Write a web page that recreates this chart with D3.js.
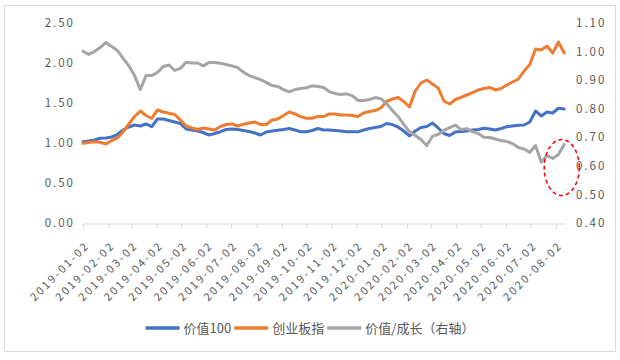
<!DOCTYPE html>
<html>
<head>
<meta charset="utf-8">
<script src="https://cdn.jsdelivr.net/npm/d3@7/dist/d3.min.js"></script>
<style>
  html, body { margin: 0; padding: 0; background: #fff; }
  svg { display: block; }
  text { font-family: "Noto Sans CJK SC", "Noto Sans", sans-serif; fill: #595959; }
</style>
</head>
<body>
<svg id="chart" width="620" height="360"></svg>
<script>
// ---- data (weekly readings) ----
const dates = [
"2019-01-02","2019-01-09","2019-01-16","2019-01-23","2019-01-30","2019-02-06","2019-02-13","2019-02-20","2019-02-27",
"2019-03-06","2019-03-13","2019-03-20","2019-03-27","2019-04-03","2019-04-10","2019-04-17","2019-04-24",
"2019-05-01","2019-05-08","2019-05-15","2019-05-22","2019-05-29","2019-06-05","2019-06-12","2019-06-19","2019-06-26",
"2019-07-03","2019-07-10","2019-07-17","2019-07-24","2019-07-31","2019-08-07","2019-08-14","2019-08-21","2019-08-28",
"2019-09-04","2019-09-11","2019-09-18","2019-09-25","2019-10-02","2019-10-09","2019-10-16","2019-10-23","2019-10-30",
"2019-11-06","2019-11-13","2019-11-20","2019-11-27","2019-12-04","2019-12-11","2019-12-18","2019-12-25",
"2020-01-01","2020-01-08","2020-01-15","2020-01-22","2020-01-29","2020-02-05","2020-02-12","2020-02-19","2020-02-26",
"2020-03-04","2020-03-11","2020-03-18","2020-03-25","2020-04-01","2020-04-08","2020-04-15","2020-04-22","2020-04-29",
"2020-05-06","2020-05-13","2020-05-20","2020-05-27","2020-06-03","2020-06-10","2020-06-17","2020-06-24",
"2020-07-01","2020-07-08","2020-07-15","2020-07-22","2020-07-29","2020-08-05","2020-08-12"
];
const value100 = [
1.016,1.025,1.038,1.059,1.063,1.075,1.106,1.163,1.200,
1.225,1.213,1.238,1.204,1.300,1.300,1.281,1.263,
1.244,1.175,1.163,1.150,1.131,1.100,1.119,1.141,1.169,
1.175,1.169,1.156,1.144,1.125,1.100,1.138,1.150,1.159,
1.169,1.181,1.163,1.141,1.141,1.156,1.181,1.163,1.163,
1.156,1.150,1.141,1.141,1.141,1.163,1.181,1.194,
1.206,1.244,1.231,1.200,1.150,1.088,1.150,1.194,1.206,
1.250,1.188,1.119,1.094,1.138,1.144,1.150,1.163,1.169,
1.184,1.175,1.163,1.181,1.204,1.213,1.221,1.225,
1.263,1.400,1.338,1.388,1.375,1.434,1.425
];
const chinext = [
0.996,1.006,1.016,1.009,0.988,1.031,1.063,1.138,1.238,
1.331,1.400,1.344,1.309,1.413,1.388,1.371,1.356,
1.288,1.213,1.188,1.169,1.188,1.175,1.163,1.206,1.231,
1.238,1.213,1.234,1.250,1.263,1.231,1.231,1.288,1.300,
1.344,1.388,1.363,1.329,1.309,1.309,1.331,1.331,1.363,
1.363,1.350,1.350,1.344,1.331,1.375,1.394,1.406,
1.438,1.519,1.550,1.569,1.519,1.450,1.650,1.750,1.788,
1.738,1.688,1.525,1.488,1.544,1.569,1.600,1.631,1.663,
1.681,1.694,1.663,1.681,1.725,1.763,1.800,1.900,
1.981,2.175,2.163,2.213,2.125,2.263,2.125
];
const valueGrowth = [
1.001,0.990,1.000,1.014,1.032,1.018,1.004,0.976,0.950,
0.916,0.867,0.916,0.916,0.927,0.948,0.953,0.934,
0.941,0.963,0.960,0.960,0.950,0.962,0.962,0.959,0.955,
0.950,0.944,0.928,0.916,0.909,0.902,0.892,0.881,0.878,
0.867,0.859,0.867,0.871,0.873,0.880,0.878,0.874,0.860,
0.853,0.850,0.852,0.846,0.829,0.829,0.832,0.839,
0.835,0.818,0.794,0.773,0.745,0.720,0.706,0.692,0.671,
0.703,0.710,0.724,0.734,0.743,0.727,0.730,0.720,0.713,
0.700,0.699,0.694,0.689,0.685,0.678,0.664,0.659,
0.647,0.671,0.613,0.636,0.626,0.640,0.675
];
const leftTicks = [0.00, 0.50, 1.00, 1.50, 2.00, 2.50];
const rightTicks = [0.40, 0.50, 0.60, 0.70, 0.80, 0.90, 1.00, 1.10];
const xTickLabels = [
"2019-01-02","2019-02-02","2019-03-02","2019-04-02","2019-05-02","2019-06-02","2019-07-02","2019-08-02",
"2019-09-02","2019-10-02","2019-11-02","2019-12-02","2020-01-02","2020-02-02","2020-03-02","2020-04-02",
"2020-05-02","2020-06-02","2020-07-02","2020-08-02"
];
const xDomain = ["2019-01-02", "2020-08-13"];
const seriesNames = ["价值100", "创业板指", "价值/成长（右轴）"];
const seriesColors = ["#4472C4", "#ED7D31", "#A5A5A5"];
// annotation: dashed ellipse around latest ratio readings (date, right-axis value)
const highlight = { date: "2020-08-09", value: 0.594 };

// ---- drawing ----
const parse = d3.timeParse("%Y-%m-%d");
const svg = d3.select("#chart");

svg.append("rect").attr("x", 4.5).attr("y", 5.5).attr("width", 611).attr("height", 346)
  .attr("fill", "#fff").attr("stroke", "#d9d9d9").attr("stroke-width", 1);

const x = d3.scaleTime().domain(xDomain.map(parse)).range([83, 565]);
const yL = d3.scaleLinear().domain([0, 2.5]).range([223, 23]);
const yR = d3.scaleLinear().domain([0.4, 1.1]).range([223, 23]);

// x axis
const xAxis = d3.axisBottom(x)
  .tickValues(xTickLabels.map(parse))
  .tickFormat(d3.timeFormat("%Y-%m-%d"))
  .tickSize(5).tickSizeOuter(0);
const gx = svg.append("g").attr("transform", "translate(0,223.5)").call(xAxis);
gx.select(".domain").attr("stroke", "#d9d9d9");
gx.selectAll(".tick line").attr("stroke", "#d9d9d9");
gx.selectAll(".tick text")
  .attr("x", 0).attr("y", 0).attr("dy", "0.35em")
  .attr("text-anchor", "end")
  .attr("transform", "translate(4,20) rotate(-45)")
  .style("font-family", '"Noto Sans CJK SC", sans-serif')
  .style("font-size", "11px").style("letter-spacing", "2.2px")
  .attr("fill", "#595959");

// left axis labels
const gyl = svg.append("g").attr("transform", "translate(75,0)")
  .call(d3.axisLeft(yL).tickValues(leftTicks).tickFormat(d3.format(".2f")).tickSize(0));
gyl.select(".domain").remove();
gyl.selectAll(".tick text").attr("x", 0)
  .style("font-family", '"Noto Sans CJK SC", sans-serif')
  .style("font-size", "11.5px").style("letter-spacing", "2px").attr("fill", "#595959");

// right axis labels
const gyr = svg.append("g").attr("transform", "translate(576,0)")
  .call(d3.axisRight(yR).tickValues(rightTicks).tickFormat(d3.format(".2f")).tickSize(0));
gyr.select(".domain").remove();
gyr.selectAll(".tick text").attr("x", 0)
  .style("font-family", '"Noto Sans CJK SC", sans-serif')
  .style("font-size", "11.5px").style("letter-spacing", "2px").attr("fill", "#595959");

// lines
const rows = dates.map((d, i) => ({ date: parse(d), a: value100[i], b: chinext[i], c: valueGrowth[i] }));
const lineA = d3.line().x(d => x(d.date)).y(d => yL(d.a));
const lineB = d3.line().x(d => x(d.date)).y(d => yL(d.b));
const lineC = d3.line().x(d => x(d.date)).y(d => yR(d.c));
[[lineA, 0], [lineB, 1], [lineC, 2]].forEach(([gen, i]) => {
  svg.append("path").datum(rows).attr("d", gen)
    .attr("fill", "none").attr("stroke", seriesColors[i])
    .attr("stroke-width", 3).attr("stroke-linejoin", "round").attr("stroke-linecap", "round");
});

// annotation ellipse
svg.append("ellipse")
  .attr("cx", x(parse(highlight.date))).attr("cy", yR(highlight.value))
  .attr("rx", 17.5).attr("ry", 28)
  .attr("fill", "none").attr("stroke", "#ff0000").attr("stroke-width", 1.5)
  .attr("stroke-dasharray", "4,3");

// legend
const legend = svg.append("g").attr("transform", "translate(0,328)");
const items = seriesNames.map((name, i) => {
  const g = legend.append("g");
  g.append("line").attr("x1", 0).attr("x2", 34).attr("y1", 0).attr("y2", 0)
    .attr("stroke", seriesColors[i]).attr("stroke-width", 3.5);
  const t = g.append("text").attr("x", 38).attr("y", 0).attr("dy", "0.35em")
    .style("font-size", "13px").attr("fill", "#595959").text(name);
  return { g, w: 38 + t.node().getComputedTextLength() };
});
const gap = 3;
const total = d3.sum(items, d => d.w) + gap * (items.length - 1);
let cx = 310 - total / 2;
items.forEach(it => { it.g.attr("transform", `translate(${cx},0)`); cx += it.w + gap; });
</script>
</body>
</html>
